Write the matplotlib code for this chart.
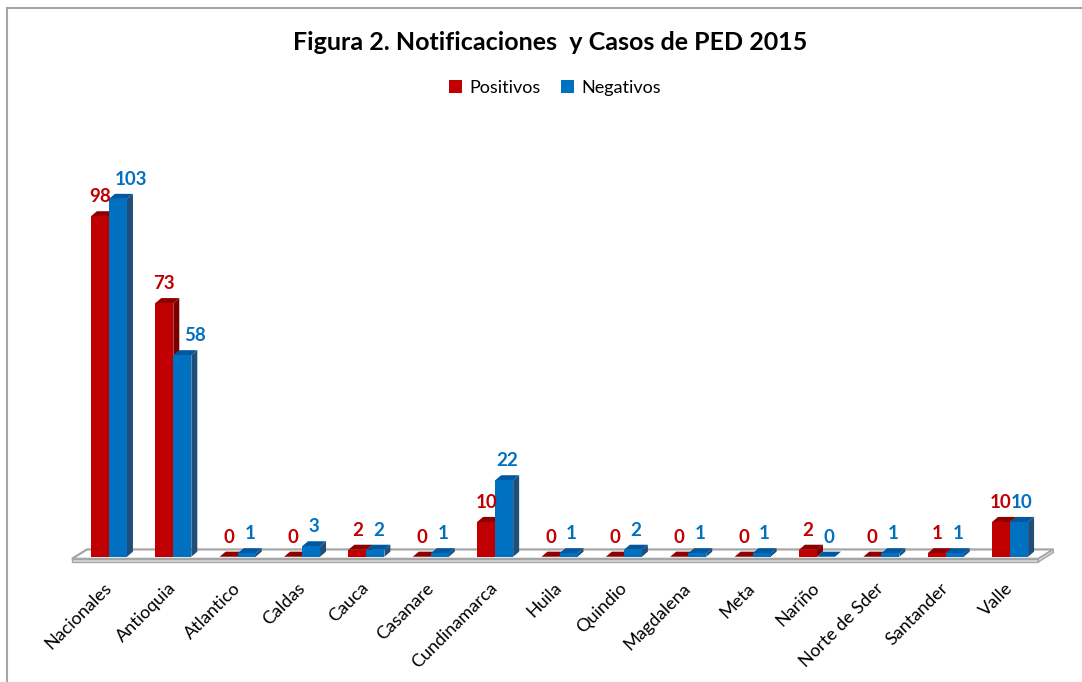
import matplotlib
matplotlib.use("Agg")
import matplotlib.pyplot as plt
from matplotlib.patches import Polygon, Rectangle, Patch
import numpy as np

categories = ["Nacionales", "Antioquia", "Atlantico", "Caldas", "Cauca", "Casanare",
              "Cundinamarca", "Huila", "Quindio", "Magdalena", "Meta", "Nariño",
              "Norte de Sder", "Santander", "Valle"]
positivos = [98, 73, 0, 0, 2, 0, 10, 0, 0, 0, 0, 2, 0, 1, 10]
negativos = [103, 58, 1, 3, 2, 1, 22, 1, 2, 1, 1, 0, 1, 1, 10]

title = "Figura 2. Notificaciones  y Casos de PED 2015"
series_names = ["Positivos", "Negativos"]

FONT = ["Lato", "DejaVu Sans"]
plt.rcParams['font.family'] = FONT

red_front, red_top, red_side = "#C00000", "#8E0000", "#7A0000"
blue_front, blue_top, blue_side = "#0070C0", "#0058A0", "#1F4E79"

fig = plt.figure(figsize=(10.82, 6.82), dpi=100)
# outer chart border
fig.add_artist(Rectangle((7 / 1082, -0.1), 1.2, (682 - 8) / 682 + 0.1, transform=fig.transFigure,
                         fill=False, edgecolor="#A6A6A6", linewidth=1.5))

ax = fig.add_axes([0.0531, 0.1582, 0.928, 0.652])
ax.set_xlim(-0.8, 14.8)
ax.set_ylim(-5, 123)
ax.axis("off")

x = np.arange(len(categories))
w = 0.28
dx = 0.093
dy = 1.46

# floor
fl_front, fl_back = -0.6, 2.1
fl_x0, fl_x1 = -0.575, 14.44
fsh = 0.233
ax.add_patch(Polygon([(fl_x0, fl_front), (fl_x1, fl_front), (fl_x1 + fsh, fl_back), (fl_x0 + fsh, fl_back)],
                     closed=True, facecolor="white", edgecolor="#A6A6A6", linewidth=1.6, zorder=1))
ax.add_patch(Polygon([(fl_x0, fl_front), (fl_x1, fl_front), (fl_x1, fl_front - 0.9), (fl_x0, fl_front - 0.9)],
                     closed=True, facecolor="#D9D9D9", edgecolor="#A6A6A6", linewidth=1.0, zorder=1))
ax.add_patch(Polygon([(fl_x1, fl_front), (fl_x1 + fsh, fl_back), (fl_x1 + fsh, fl_back - 0.9), (fl_x1, fl_front - 0.9)],
                     closed=True, facecolor="#D9D9D9", edgecolor="#A6A6A6", linewidth=1.0, zorder=1))


def bar3d(x0, h, top, side, z):
    ax.add_patch(Polygon([(x0 + w, 0), (x0 + w + dx, dy), (x0 + w + dx, h + dy), (x0 + w, h)],
                         closed=True, facecolor=side, edgecolor="none", zorder=z))
    ax.add_patch(Polygon([(x0, h), (x0 + w, h), (x0 + w + dx, h + dy), (x0 + dx, h + dy)],
                         closed=True, facecolor=top, edgecolor="none", zorder=z))


for i in range(len(categories)):
    bar3d(x[i] - w, positivos[i], red_top, red_side, 2)
    bar3d(x[i], negativos[i], blue_top, blue_side, 3)

ax.bar(x - w, positivos, width=w, align="edge", color=red_front, zorder=2.5, linewidth=0)
ax.bar(x, negativos, width=w, align="edge", color=blue_front, zorder=3.5, linewidth=0)

for i in range(len(categories)):
    ax.annotate(str(positivos[i]), (x[i] - w / 2, positivos[i]), xytext=(0, 10),
                textcoords="offset points", ha="center", va="baseline",
                fontsize=13.5, fontweight="bold", color=red_front, zorder=5)
    # tall blue labels are nudged right, as the original does to avoid the red labels
    shift = 7 if negativos[i] >= 50 else 0
    ax.annotate(str(negativos[i]), (x[i] + w / 2 + dx / 2, negativos[i]), xytext=(shift, 10),
                textcoords="offset points", ha="center", va="baseline",
                fontsize=13.5, fontweight="bold", color=blue_front, zorder=5)

for i, c in enumerate(categories):
    ax.text(x[i], -8.3, c, rotation=45, ha="right", va="center", rotation_mode="anchor",
            fontsize=13, color="black")

fig.text(550 / 1082, 1 - 42 / 682, title, ha="center", va="center", fontsize=18, fontweight="bold")

handles = [Patch(facecolor=red_front), Patch(facecolor=blue_front)]
fig.legend(handles, series_names, loc="center", bbox_to_anchor=(555 / 1082, 1 - 88 / 682),
           ncol=2, frameon=False, fontsize=13, handlelength=0.75, handleheight=0.75,
           handletextpad=0.4, columnspacing=1.1)

fig.savefig("out.png", dpi=100)
